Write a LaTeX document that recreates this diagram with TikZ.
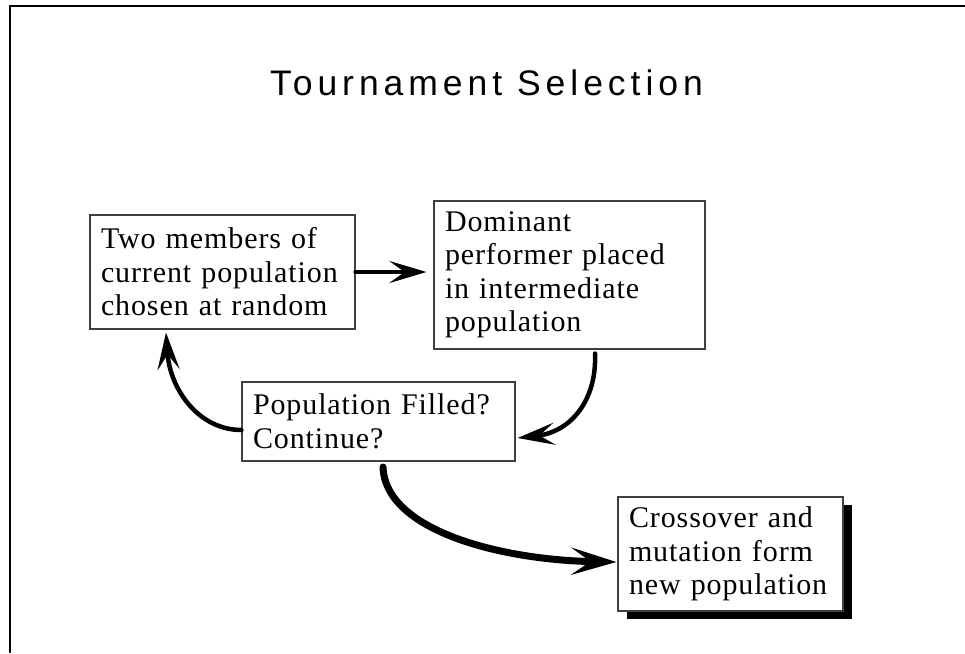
\documentclass[tikz,border=0pt]{standalone}
\usepackage{fontspec}
\usetikzlibrary{arrows.meta,shadows}
\newfontfamily\boxfont{Liberation Serif}[LetterSpace=3]
\newfontfamily\titlefont{Liberation Sans}[LetterSpace=14]
\begin{document}
\begin{tikzpicture}[x=1pt,y=-1pt,
  box/.style={draw=black!75, line width=1.1pt, fill=white, align=left,
    inner xsep=11pt, inner ysep=0pt,
    font=\boxfont\fontsize{30}{33.5}\selectfont},
  flow/.style={line width=4.5pt, line cap=round,
    -{Stealth[length=37pt,width=22pt,inset=15pt]}},
  bigflow/.style={line width=7pt, line cap=round,
    -{Stealth[length=45pt,width=27pt,inset=19pt]}},
  frameline/.style={line width=2pt}]
\useasboundingbox (0,0) rectangle (965,653);
\draw[frameline] (10,653) -- (10,6) -- (965,6);
\node[font=\titlefont\fontsize{35.5}{40}\selectfont, anchor=base] (title) at (486.5,95) {Tournament Selection};
\node[box, text width=243pt, minimum height=114pt] (b1) at (222.5,272)
  {Two members of\\current population\\chosen at random};
\node[box, text width=249pt, minimum height=148pt] (b2) at (569.5,275)
  {Dominant\\performer placed\\in intermediate\\population};
\node[box, text width=251pt, minimum height=79pt] (b3) at (378.5,421.5)
  {Population Filled?\\Continue?};
\node[box, text width=203pt, minimum height=114pt,
  drop shadow={shadow xshift=8.5pt, shadow yshift=-7.5pt, fill=black, opacity=1}] (b4) at (730.5,554)
  {Crossover and\\mutation form\\new population};
\draw[flow, shorten >=7pt] (b1.east) -- (b1.east -| b2.west);
\draw[flow] ([xshift=25.5pt,yshift=-4pt]b2.south) .. controls +(2,47) and +(53,-6) .. ([xshift=2pt,yshift=-16.5pt]b3.east);
\draw[flow] ([yshift=-8.5pt]b3.west) .. controls +(-42,0) and +(4,58) .. ([xshift=-56.5pt,yshift=-3pt]b1.south);
\draw[bigflow] ([xshift=4.5pt,yshift=-5.5pt]b3.south) .. controls +(2,63) and +(-117,-2) .. ([xshift=-1pt,yshift=-8pt]b4.west);
\end{tikzpicture}
\end{document}
